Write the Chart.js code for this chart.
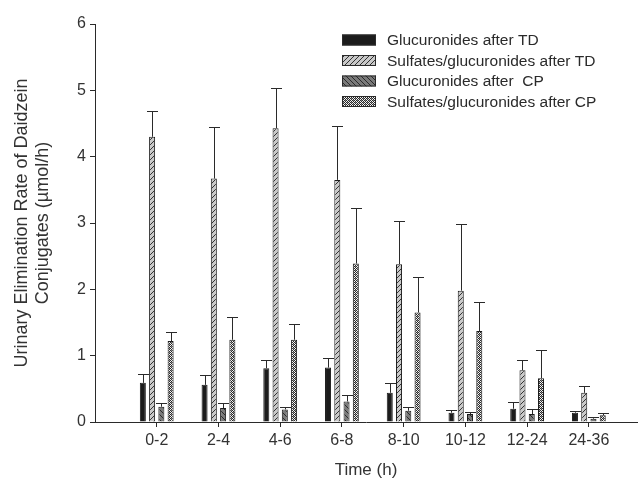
<!DOCTYPE html>
<html>
<head>
<meta charset="utf-8">
<script src="https://cdn.jsdelivr.net/npm/chart.js@4.4.0/dist/chart.umd.min.js"></script>
<style>
  html, body { margin: 0; padding: 0; background: #fff; }
  #wrap { width: 641px; height: 481px; }
</style>
</head>
<body>
<div id="wrap"><canvas id="chart" width="641" height="481"></canvas></div>
<script>
// time intervals (h)
const timeLabels = ['0-2', '2-4', '4-6', '6-8', '8-10', '10-12', '12-24', '24-36'];
const yTicks = [0, 1, 2, 3, 4, 5, 6];

const seriesNames = [
    'Glucuronides after TD',
    'Sulfates/glucuronides after TD',
    'Glucuronides after  CP',
    'Sulfates/glucuronides after CP'
];

// mean elimination rates (umol/h)
const glucTD = [0.59, 0.56, 0.81, 0.82, 0.44, 0.14, 0.20, 0.14];
const sulfGlucTD = [4.30, 3.67, 4.43, 3.65, 2.38, 1.98, 0.78, 0.44];
const glucCP = [0.23, 0.21, 0.19, 0.31, 0.17, 0.12, 0.12, 0.05];
const sulfGlucCP = [1.22, 1.24, 1.24, 2.39, 1.65, 1.37, 0.66, 0.10];

// upper error (SD)
const glucTDErr = [0.13, 0.15, 0.13, 0.15, 0.15, 0.04, 0.10, 0.03];
const sulfGlucTDErr = [0.39, 0.78, 0.60, 0.81, 0.65, 1.01, 0.15, 0.10];
const glucCPErr = [0.06, 0.07, 0.03, 0.10, 0.05, 0.035, 0.07, 0.02];
const sulfGlucCPErr = [0.14, 0.34, 0.24, 0.84, 0.53, 0.44, 0.42, 0.03];

const FONT = '"Liberation Sans", Arial, Helvetica, sans-serif';
const INK = '#2a2a2a';

function makePattern(size, draw) {
    const c = document.createElement('canvas');
    c.width = size;
    c.height = size;
    const g = c.getContext('2d');
    draw(g, size);
    return g.createPattern(c, 'repeat');
}

const fwdHatch = makePattern(5, (g, s) => {
    g.fillStyle = '#c9c9c9';
    g.fillRect(0, 0, s, s);
    g.strokeStyle = '#333';
    g.lineWidth = 1;
    g.beginPath();
    g.moveTo(-1, s + 1); g.lineTo(s + 1, -1);
    g.moveTo(-1, 1); g.lineTo(1, -1);
    g.moveTo(s - 1, s + 1); g.lineTo(s + 1, s - 1);
    g.stroke();
});

const backHatch = makePattern(5, (g, s) => {
    g.fillStyle = '#7a7a7a';
    g.fillRect(0, 0, s, s);
    g.strokeStyle = '#2a2a2a';
    g.lineWidth = 1;
    g.beginPath();
    g.moveTo(-1, -1); g.lineTo(s + 1, s + 1);
    g.moveTo(s - 1, -1); g.lineTo(s + 1, 1);
    g.moveTo(-1, s - 1); g.lineTo(1, s + 1);
    g.stroke();
});

const crossHatch = makePattern(4, (g, s) => {
    g.fillStyle = '#f4f4f4';
    g.fillRect(0, 0, s, s);
    g.fillStyle = '#2a2a2a';
    g.fillRect(0, 0, 1, 1);
    g.fillRect(2, 0, 1, 1);
    g.fillRect(1, 1, 1, 1);
    g.fillRect(3, 1, 1, 1);
    g.fillRect(0, 2, 1, 1);
    g.fillRect(2, 2, 1, 1);
    g.fillRect(1, 3, 1, 1);
    g.fillRect(3, 3, 1, 1);
    g.fillStyle = '#8a8a8a';
    g.fillRect(1, 0, 1, 1);
    g.fillRect(3, 2, 1, 1);
});

const fills = ['#1c1c1c', fwdHatch, backHatch, crossHatch];
const values = [glucTD, sulfGlucTD, glucCP, sulfGlucCP];
const errors = [glucTDErr, sulfGlucTDErr, glucCPErr, sulfGlucCPErr];

const datasets = values.map((vals, i) => ({
    label: seriesNames[i],
    data: vals.map((v, j) => ({ x: j, y: v })),
    backgroundColor: fills[i],
    borderColor: '#1c1c1c',
    borderWidth: 1,
    errors: errors[i]
}));

// upward error bars with caps
const errorBars = {
    id: 'errorBars',
    afterDatasetsDraw(chart) {
        const ctx = chart.ctx;
        const y = chart.scales.y;
        ctx.save();
        ctx.strokeStyle = INK;
        ctx.lineWidth = 1;
        chart.data.datasets.forEach((ds, i) => {
            const meta = chart.getDatasetMeta(i);
            meta.data.forEach((bar, j) => {
                const top = y.getPixelForValue(ds.data[j].y + ds.errors[j]);
                const x = Math.round(bar.x) + 0.5;
                const yt = Math.round(top) + 0.5;
                ctx.beginPath();
                ctx.moveTo(x, bar.y);
                ctx.lineTo(x, yt);
                ctx.moveTo(x - 5.5, yt);
                ctx.lineTo(x + 5.5, yt);
                ctx.stroke();
            });
        });
        ctx.restore();
    }
};

// legend inside the plot, top right
const boxLegend = {
    id: 'boxLegend',
    afterDraw(chart) {
        const ctx = chart.ctx;
        ctx.save();
        ctx.font = '15.5px ' + FONT;
        ctx.textBaseline = 'middle';
        seriesNames.forEach((name, i) => {
            const cy = 40 + i * 20.5;
            ctx.fillStyle = fills[i];
            ctx.fillRect(342, cy - 5.5, 34, 11);
            ctx.strokeStyle = INK;
            ctx.lineWidth = 1;
            ctx.strokeRect(342.5, cy - 5, 33, 10);
            ctx.fillStyle = INK;
            ctx.fillText(name, 387, cy + 1);
        });
        ctx.restore();
    }
};

new Chart(document.getElementById('chart'), {
    type: 'bar',
    data: { datasets: datasets },
    options: {
        responsive: false,
        animation: false,
        categoryPercentage: 0.6,
        barPercentage: 0.65,
        layout: { padding: { top: 24, right: 4, left: 0, bottom: 0 } },
        plugins: {
            legend: { display: false },
            tooltip: { enabled: false }
        },
        scales: {
            x: {
                type: 'linear',
                min: -1,
                max: 7.78,
                offset: false,
                afterBuildTicks: scale => {
                    scale.ticks = timeLabels.map((t, i) => ({ value: i }));
                },
                afterFit: scale => { scale.height = 59; },
                grid: {
                    offset: false,
                    drawOnChartArea: false,
                    drawTicks: true,
                    tickLength: 5,
                    color: INK
                },
                border: { color: INK, width: 1 },
                ticks: {
                    autoSkip: false,
                    maxRotation: 0,
                    padding: 4,
                    color: '#333',
                    font: { family: FONT, size: 16 },
                    callback: v => timeLabels[v] ?? ''
                },
                title: {
                    display: true,
                    text: 'Time (h)',
                    color: '#333',
                    font: { family: FONT, size: 17 },
                    padding: { top: 2, bottom: 0 }
                }
            },
            y: {
                min: 0,
                max: 6,
                afterBuildTicks: scale => {
                    scale.ticks = yTicks.map(v => ({ value: v }));
                },
                afterFit: scale => { scale.width = 95; },
                grid: {
                    drawOnChartArea: false,
                    drawTicks: true,
                    tickLength: 5,
                    color: INK
                },
                border: { color: INK, width: 1 },
                ticks: {
                    padding: 4,
                    color: '#333',
                    font: { family: FONT, size: 16 }
                },
                title: {
                    display: true,
                    text: ['Urinary Elimination Rate of Daidzein', 'Conjugates (µmol/h)'],
                    color: '#333',
                    font: { family: FONT, size: 18, lineHeight: 1.2 },
                    padding: { top: 11, bottom: 0 }
                }
            }
        }
    },
    plugins: [errorBars, boxLegend]
});
</script>
</body>
</html>
